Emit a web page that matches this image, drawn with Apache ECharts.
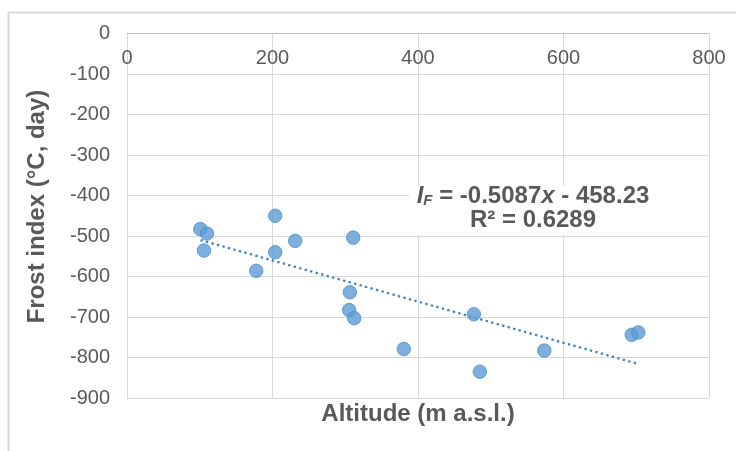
<!DOCTYPE html>
<html>
<head>
<meta charset="utf-8">
<script src="https://cdn.jsdelivr.net/npm/echarts@6/dist/echarts.min.js"></script>
<style>
html,body{margin:0;padding:0;background:#fff;}
#chart{width:736px;height:451px;}
</style>
</head>
<body>
<div id="chart"></div>
<script>
const altitude   = [100.7, 109.9, 105.8, 203.7, 203.7, 177.6, 231.2, 310.9, 306.4, 305.4, 312.3, 380.5, 476.7, 485.0, 573.6, 693.8, 702.8];
const frostIndex = [-483, -494, -536, -450, -540, -586, -512, -504, -639, -683, -703, -779, -693, -835, -783, -744, -738];
// Linear trendline endpoints (as drawn)
const trendX = [101, 703];
const trendY = [-510, -816];
// Axis ticks
const xTicks = { min: 0, max: 800, interval: 200 };
const yTicks = { min: -900, max: 0, interval: 100 };
const xTitle = 'Altitude (m a.s.l.)';
const yTitle = 'Frost index (°C, day)';
const eqSlope = '-0.5087';
const eqIntercept = '458.23';
const r2Text = '0.6289';

const points = altitude.map((x, i) => [x, frostIndex[i]]);
const trend = trendX.map((x, i) => [x, trendY[i]]);

const FONT = '"Liberation Sans", Arial, sans-serif';
const GREY = '#595959';

const chart = echarts.init(document.getElementById('chart'), null, { renderer: 'canvas' });
chart.setOption({
  animation: false,
  backgroundColor: '#fff',
  grid: { left: 127, top: 33.5, right: 27, bottom: 53, containLabel: false },
  xAxis: {
    type: 'value', position: 'top', min: xTicks.min, max: xTicks.max, interval: xTicks.interval,
    axisLine: { show: true, onZero: false, lineStyle: { color: '#bfbfbf', width: 1 } },
    axisTick: { show: false },
    axisLabel: { inside: true, margin: 15, fontSize: 20, color: GREY, fontFamily: FONT },
    splitLine: { show: true, lineStyle: { color: '#d9d9d9', width: 1 } }
  },
  yAxis: {
    type: 'value', min: yTicks.min, max: yTicks.max, interval: yTicks.interval,
    axisLine: { show: false },
    axisTick: { show: false },
    axisLabel: { margin: 17, fontSize: 20, color: GREY, fontFamily: FONT },
    splitLine: { show: true, lineStyle: { color: '#d9d9d9', width: 1 } }
  },
  series: [
    {
      type: 'line', data: trend, symbol: 'none', silent: true, z: 3,
      lineStyle: { color: '#3f7fc0', width: 2.3, type: [2.3, 3.4], cap: 'butt' }
    },
    {
      type: 'scatter', data: points, symbol: 'circle', symbolSize: 13.5, z: 4,
      itemStyle: { color: '#5b9bd5', borderColor: '#4f8fcb', borderWidth: 1 }
    }
  ],
  graphic: [
    { type: 'rect', silent: true, z: -10, shape: { x: 8.5, y: 12.5, width: 900, height: 600 },
      style: { fill: 'none', stroke: '#d9d9d9', lineWidth: 2 } },
    { type: 'rect', silent: true, z: 5, shape: { x: 409, y: 186, width: 299, height: 49 },
      style: { fill: '#ffffff' } },
    { type: 'text', x: 418, y: 414, silent: true,
      style: { text: xTitle, font: 'bold 24px ' + FONT, fill: GREY, align: 'center', verticalAlign: 'middle' } },
    { type: 'text', x: 37.5, y: 206.5, rotation: Math.PI / 2, silent: true,
      style: { text: yTitle, font: 'bold 24px ' + FONT, fill: GREY, align: 'center', verticalAlign: 'middle' } },
    { type: 'text', x: 533, y: 208.5, silent: true, z: 6,
      style: {
        text: '{i|I}{s|F}{b| = ' + eqSlope + '}{i|x}{b| - ' + eqIntercept + '}\n{b|R² = ' + r2Text + '}',
        align: 'center', verticalAlign: 'middle', fill: GREY,
        rich: {
          b: { fontFamily: FONT, fontWeight: 'bold', fontSize: 24, lineHeight: 24, fill: GREY, color: GREY },
          i: { fontFamily: FONT, fontWeight: 'bold', fontStyle: 'italic', fontSize: 24, lineHeight: 24, fill: GREY, color: GREY },
          s: { fontFamily: FONT, fontWeight: 'bold', fontStyle: 'italic', fontSize: 15, lineHeight: 10, verticalAlign: 'bottom', fill: GREY, color: GREY }
        }
      } }
  ]
});
</script>
</body>
</html>
